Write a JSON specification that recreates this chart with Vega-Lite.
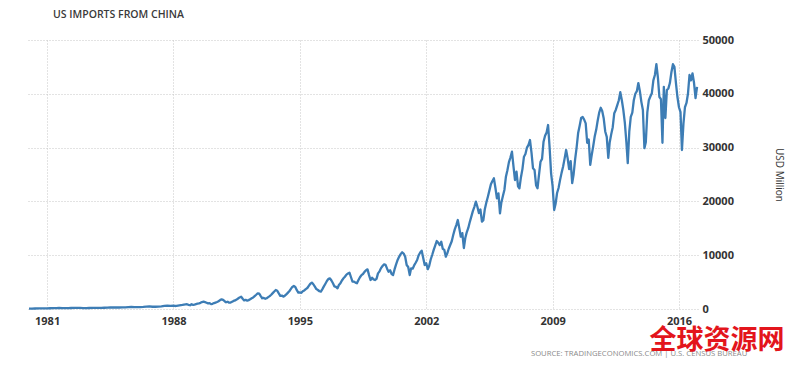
{
 "$schema": "https://vega.github.io/schema/vega-lite/v6.json",
 "width": 671, "height": 269,
 "autosize": {"type": "none"},
 "padding": {"left": 27, "top": 40, "right": 102, "bottom": 59},
 "background": "white",
 "title": {"text": "US IMPORTS FROM CHINA", "anchor": "start", "frame": "group", "dx": 26, "offset": 14, "fontSize": 10.5, "font": "Open Sans", "fontWeight": 600, "color": "#3a3a3a"},
 "config": {"view": {"stroke": null}, "font": "Open Sans"},
 "layer": [
  {
   "data": {"values": [
{"d":"1980-01","v":70},{"d":"1980-03","v":85},{"d":"1980-05","v":90},{"d":"1980-07","v":105},{"d":"1980-09","v":115},{"d":"1980-11","v":100},
{"d":"1981-01","v":130},{"d":"1981-03","v":140},{"d":"1981-05","v":155},{"d":"1981-07","v":170},{"d":"1981-09","v":185},{"d":"1981-11","v":165},
{"d":"1982-01","v":165},{"d":"1982-03","v":175},{"d":"1982-05","v":190},{"d":"1982-07","v":205},{"d":"1982-09","v":215},{"d":"1982-11","v":195},
{"d":"1983-01","v":170},{"d":"1983-03","v":175},{"d":"1983-05","v":185},{"d":"1983-07","v":205},{"d":"1983-09","v":215},{"d":"1983-11","v":200},
{"d":"1984-01","v":215},{"d":"1984-03","v":230},{"d":"1984-05","v":255},{"d":"1984-07","v":280},{"d":"1984-09","v":305},{"d":"1984-11","v":280},
{"d":"1985-01","v":280},{"d":"1985-03","v":290},{"d":"1985-05","v":315},{"d":"1985-07","v":345},{"d":"1985-09","v":370},{"d":"1985-11","v":335},
{"d":"1986-01","v":340},{"d":"1986-03","v":350},{"d":"1986-05","v":385},{"d":"1986-07","v":435},{"d":"1986-09","v":470},{"d":"1986-11","v":420},
{"d":"1987-01","v":420},{"d":"1987-03","v":440},{"d":"1987-05","v":500},{"d":"1987-07","v":575},{"d":"1987-09","v":630},{"d":"1987-11","v":570},
{"d":"1988-01","v":620},{"d":"1988-02","v":560},{"d":"1988-03","v":590},{"d":"1988-04","v":640},{"d":"1988-05","v":680},{"d":"1988-06","v":720},{"d":"1988-07","v":760},{"d":"1988-08","v":820},{"d":"1988-09","v":850},{"d":"1988-10","v":880},{"d":"1988-11","v":780},{"d":"1988-12","v":700},
{"d":"1989-01","v":880},{"d":"1989-02","v":760},{"d":"1989-03","v":820},{"d":"1989-04","v":900},{"d":"1989-05","v":980},{"d":"1989-06","v":1050},{"d":"1989-07","v":1150},{"d":"1989-08","v":1300},{"d":"1989-09","v":1360},{"d":"1989-10","v":1280},{"d":"1989-11","v":1170},{"d":"1989-12","v":1050},
{"d":"1990-01","v":1100},{"d":"1990-02","v":900},{"d":"1990-03","v":960},{"d":"1990-04","v":1100},{"d":"1990-05","v":1200},{"d":"1990-06","v":1300},{"d":"1990-07","v":1450},{"d":"1990-08","v":1650},{"d":"1990-09","v":1800},{"d":"1990-10","v":1700},{"d":"1990-11","v":1450},{"d":"1990-12","v":1250},
{"d":"1991-01","v":1350},{"d":"1991-02","v":1170},{"d":"1991-03","v":1200},{"d":"1991-04","v":1350},{"d":"1991-05","v":1500},{"d":"1991-06","v":1600},{"d":"1991-07","v":1750},{"d":"1991-08","v":1950},{"d":"1991-09","v":2150},{"d":"1991-10","v":2290},{"d":"1991-11","v":1900},{"d":"1991-12","v":1600},
{"d":"1992-01","v":1700},{"d":"1992-02","v":1550},{"d":"1992-03","v":1650},{"d":"1992-04","v":1800},{"d":"1992-05","v":2000},{"d":"1992-06","v":2150},{"d":"1992-07","v":2400},{"d":"1992-08","v":2650},{"d":"1992-09","v":2920},{"d":"1992-10","v":2850},{"d":"1992-11","v":2400},{"d":"1992-12","v":2000},
{"d":"1993-01","v":2050},{"d":"1993-02","v":1900},{"d":"1993-03","v":2000},{"d":"1993-04","v":2200},{"d":"1993-05","v":2400},{"d":"1993-06","v":2650},{"d":"1993-07","v":2950},{"d":"1993-08","v":3250},{"d":"1993-09","v":3530},{"d":"1993-10","v":3400},{"d":"1993-11","v":2900},{"d":"1993-12","v":2450},
{"d":"1994-01","v":2500},{"d":"1994-02","v":2290},{"d":"1994-03","v":2450},{"d":"1994-04","v":2700},{"d":"1994-05","v":3000},{"d":"1994-06","v":3300},{"d":"1994-07","v":3700},{"d":"1994-08","v":4100},{"d":"1994-09","v":4270},{"d":"1994-10","v":4100},{"d":"1994-11","v":3500},{"d":"1994-12","v":3050},
{"d":"1995-01","v":3100},{"d":"1995-02","v":3000},{"d":"1995-03","v":3300},{"d":"1995-04","v":3450},{"d":"1995-05","v":3700},{"d":"1995-06","v":3900},{"d":"1995-07","v":4300},{"d":"1995-08","v":4700},{"d":"1995-09","v":4900},{"d":"1995-10","v":4600},{"d":"1995-11","v":4150},{"d":"1995-12","v":3700},
{"d":"1996-01","v":3530},{"d":"1996-02","v":3300},{"d":"1996-03","v":3220},{"d":"1996-04","v":3700},{"d":"1996-05","v":4200},{"d":"1996-06","v":4700},{"d":"1996-07","v":5200},{"d":"1996-08","v":5600},{"d":"1996-09","v":5700},{"d":"1996-10","v":5300},{"d":"1996-11","v":4780},{"d":"1996-12","v":4200},
{"d":"1997-01","v":4100},{"d":"1997-02","v":3850},{"d":"1997-03","v":4460},{"d":"1997-04","v":4800},{"d":"1997-05","v":5300},{"d":"1997-06","v":5700},{"d":"1997-07","v":6000},{"d":"1997-08","v":6400},{"d":"1997-09","v":6600},{"d":"1997-10","v":6750},{"d":"1997-11","v":5900},{"d":"1997-12","v":5100},
{"d":"1998-01","v":5080},{"d":"1998-02","v":4900},{"d":"1998-03","v":4780},{"d":"1998-04","v":5400},{"d":"1998-05","v":5900},{"d":"1998-06","v":6300},{"d":"1998-07","v":6500},{"d":"1998-08","v":6900},{"d":"1998-09","v":7200},{"d":"1998-10","v":7370},{"d":"1998-11","v":6300},{"d":"1998-12","v":5390},
{"d":"1999-01","v":5800},{"d":"1999-02","v":5500},{"d":"1999-03","v":5390},{"d":"1999-04","v":5600},{"d":"1999-05","v":6630},{"d":"1999-06","v":7000},{"d":"1999-07","v":7600},{"d":"1999-08","v":8000},{"d":"1999-09","v":8300},{"d":"1999-10","v":8200},{"d":"1999-11","v":7500},{"d":"1999-12","v":6930},
{"d":"2000-01","v":7200},{"d":"2000-02","v":6500},{"d":"2000-03","v":6320},{"d":"2000-04","v":7400},{"d":"2000-05","v":8300},{"d":"2000-06","v":9110},{"d":"2000-07","v":9700},{"d":"2000-08","v":10200},{"d":"2000-09","v":10540},{"d":"2000-10","v":10300},{"d":"2000-11","v":9720},{"d":"2000-12","v":8180},
{"d":"2001-01","v":7800},{"d":"2001-02","v":6320},{"d":"2001-03","v":7560},{"d":"2001-04","v":7500},{"d":"2001-05","v":8100},{"d":"2001-06","v":8600},{"d":"2001-07","v":9110},{"d":"2001-08","v":10000},{"d":"2001-09","v":10500},{"d":"2001-10","v":10840},{"d":"2001-11","v":9500},{"d":"2001-12","v":8180},
{"d":"2002-01","v":8500},{"d":"2002-02","v":7400},{"d":"2002-03","v":8000},{"d":"2002-04","v":9200},{"d":"2002-05","v":10040},{"d":"2002-06","v":11000},{"d":"2002-07","v":11800},{"d":"2002-08","v":12640},{"d":"2002-09","v":12300},{"d":"2002-10","v":11900},{"d":"2002-11","v":12500},{"d":"2002-12","v":11200},
{"d":"2003-01","v":11000},{"d":"2003-02","v":9720},{"d":"2003-03","v":10300},{"d":"2003-04","v":11200},{"d":"2003-05","v":11900},{"d":"2003-06","v":12600},{"d":"2003-07","v":13750},{"d":"2003-08","v":14800},{"d":"2003-09","v":15600},{"d":"2003-10","v":16540},{"d":"2003-11","v":15000},{"d":"2003-12","v":13440},
{"d":"2004-01","v":14100},{"d":"2004-02","v":11340},{"d":"2004-03","v":13200},{"d":"2004-04","v":14300},{"d":"2004-05","v":15060},{"d":"2004-06","v":16200},{"d":"2004-07","v":17160},{"d":"2004-08","v":18200},{"d":"2004-09","v":19000},{"d":"2004-10","v":19950},{"d":"2004-11","v":19000},{"d":"2004-12","v":17840},
{"d":"2005-01","v":18500},{"d":"2005-02","v":16230},{"d":"2005-03","v":16500},{"d":"2005-04","v":18600},{"d":"2005-05","v":19800},{"d":"2005-06","v":20870},{"d":"2005-07","v":22000},{"d":"2005-08","v":23200},{"d":"2005-09","v":23800},{"d":"2005-10","v":24290},{"d":"2005-11","v":22500},{"d":"2005-12","v":20570},
{"d":"2006-01","v":21500},{"d":"2006-02","v":17790},{"d":"2006-03","v":19800},{"d":"2006-04","v":21000},{"d":"2006-05","v":22120},{"d":"2006-06","v":24590},{"d":"2006-07","v":25800},{"d":"2006-08","v":27300},{"d":"2006-09","v":28200},{"d":"2006-10","v":29240},{"d":"2006-11","v":26500},{"d":"2006-12","v":23980},
{"d":"2007-01","v":25520},{"d":"2007-02","v":22800},{"d":"2007-03","v":22430},{"d":"2007-04","v":24500},{"d":"2007-05","v":26000},{"d":"2007-06","v":28310},{"d":"2007-07","v":28800},{"d":"2007-08","v":30000},{"d":"2007-09","v":30500},{"d":"2007-10","v":31410},{"d":"2007-11","v":29000},{"d":"2007-12","v":26150},
{"d":"2008-01","v":25840},{"d":"2008-02","v":23000},{"d":"2008-03","v":22430},{"d":"2008-04","v":25000},{"d":"2008-05","v":27380},{"d":"2008-06","v":27900},{"d":"2008-07","v":31100},{"d":"2008-08","v":32200},{"d":"2008-09","v":32800},{"d":"2008-10","v":34200},{"d":"2008-11","v":30000},{"d":"2008-12","v":25220},
{"d":"2009-01","v":22800},{"d":"2009-02","v":18400},{"d":"2009-03","v":19500},{"d":"2009-04","v":21560},{"d":"2009-05","v":22500},{"d":"2009-06","v":24000},{"d":"2009-07","v":25300},{"d":"2009-08","v":26500},{"d":"2009-09","v":28000},{"d":"2009-10","v":29550},{"d":"2009-11","v":28000},{"d":"2009-12","v":26000},
{"d":"2010-01","v":27500},{"d":"2010-02","v":23400},{"d":"2010-03","v":25000},{"d":"2010-04","v":27800},{"d":"2010-05","v":30000},{"d":"2010-06","v":32700},{"d":"2010-07","v":34000},{"d":"2010-08","v":35500},{"d":"2010-09","v":35700},{"d":"2010-10","v":35200},{"d":"2010-11","v":34500},{"d":"2010-12","v":30900},
{"d":"2011-01","v":31500},{"d":"2011-02","v":26800},{"d":"2011-03","v":28500},{"d":"2011-04","v":30200},{"d":"2011-05","v":32000},{"d":"2011-06","v":33300},{"d":"2011-07","v":35000},{"d":"2011-08","v":36500},{"d":"2011-09","v":37400},{"d":"2011-10","v":36800},{"d":"2011-11","v":35400},{"d":"2011-12","v":33000},
{"d":"2012-01","v":32000},{"d":"2012-02","v":28100},{"d":"2012-03","v":31000},{"d":"2012-04","v":32500},{"d":"2012-05","v":33800},{"d":"2012-06","v":36400},{"d":"2012-07","v":37000},{"d":"2012-08","v":37900},{"d":"2012-09","v":38800},{"d":"2012-10","v":40300},{"d":"2012-11","v":38800},{"d":"2012-12","v":37000},
{"d":"2013-01","v":34600},{"d":"2013-02","v":31000},{"d":"2013-03","v":27100},{"d":"2013-04","v":33000},{"d":"2013-05","v":35700},{"d":"2013-06","v":36500},{"d":"2013-07","v":38800},{"d":"2013-08","v":40000},{"d":"2013-09","v":40500},{"d":"2013-10","v":42000},{"d":"2013-11","v":40500},{"d":"2013-12","v":38500},
{"d":"2014-01","v":37000},{"d":"2014-02","v":29900},{"d":"2014-03","v":31000},{"d":"2014-04","v":36600},{"d":"2014-05","v":38800},{"d":"2014-06","v":39500},{"d":"2014-07","v":40100},{"d":"2014-08","v":42500},{"d":"2014-09","v":43500},{"d":"2014-10","v":45500},{"d":"2014-11","v":43000},{"d":"2014-12","v":39400},
{"d":"2015-01","v":39000},{"d":"2015-02","v":30900},{"d":"2015-03","v":41300},{"d":"2015-04","v":35500},{"d":"2015-05","v":40700},{"d":"2015-06","v":41000},{"d":"2015-07","v":42000},{"d":"2015-08","v":44000},{"d":"2015-09","v":45500},{"d":"2015-10","v":45000},{"d":"2015-11","v":42000},{"d":"2015-12","v":39400},
{"d":"2016-01","v":37500},{"d":"2016-02","v":36600},{"d":"2016-03","v":29550},{"d":"2016-04","v":34500},{"d":"2016-05","v":37500},{"d":"2016-06","v":38300},{"d":"2016-07","v":40000},{"d":"2016-08","v":43500},{"d":"2016-09","v":42500},{"d":"2016-10","v":43800},{"d":"2016-11","v":42000},{"d":"2016-12","v":39200},
{"d":"2017-01","v":41300}
   ]},
   "mark": {"type": "line", "color": "#3d7db5", "strokeWidth": 2.3, "strokeJoin": "round"},
   "encoding": {
    "x": {"field": "d", "type": "temporal",
     "scale": {"domain": [{"year": 1979, "month": 11, "date": 21}, {"year": 2017, "month": 1, "date": 20}]},
     "axis": {"values": [{"year": 1981}, {"year": 1988}, {"year": 1995}, {"year": 2002}, {"year": 2009}, {"year": 2016}],
      "format": "%Y", "title": null, "grid": true, "gridColor": "#c6c6c6", "gridDash": [1, 2], "ticks": false, "domain": false,
      "labelFont": "Open Sans", "labelFontSize": 11, "labelFontWeight": "bold", "labelColor": "#333333", "labelPadding": 6}},
    "y": {"field": "v", "type": "quantitative",
     "scale": {"domain": [0, 50000]},
     "axis": {"orient": "right", "values": [0, 10000, 20000, 30000, 40000, 50000], "format": "d",
      "title": "USD Million", "titleFont": "Open Sans", "titleFontSize": 10, "titleFontWeight": "normal", "titleColor": "#333333", "titlePadding": 40,
      "grid": true, "gridColor": "#c6c6c6", "gridDash": [1, 2], "ticks": false, "domain": false,
      "labelFont": "Open Sans", "labelFontSize": 11, "labelFontWeight": "bold", "labelColor": "#333333", "labelPadding": 4, "labelAlign": "left"}}
   }
  },
  {
   "data": {"values": [{"t": "SOURCE: TRADINGECONOMICS.COM | U.S. CENSUS BUREAU"}]},
   "mark": {"type": "text", "align": "left", "baseline": "middle", "font": "Open Sans", "fontSize": 7.7, "color": "#8a8a8a"},
   "encoding": {"text": {"field": "t"}, "x": {"datum": {"year": 2007, "month": 10, "date": 20}, "type": "temporal"}, "y": {"datum": -8300, "type": "quantitative"}}
  },
  {
   "data": {"values": [{"t": "全球资源网"}]},
   "mark": {"type": "text", "align": "center", "baseline": "middle", "font": "Noto Sans CJK SC", "fontSize": 27, "fontWeight": "bold", "color": "#e3151c"},
   "encoding": {"text": {"field": "t"}, "x": {"datum": {"year": 2018, "month": 2, "date": 8}, "type": "temporal"}, "y": {"datum": -5900, "type": "quantitative"}}
  }
 ]
}
